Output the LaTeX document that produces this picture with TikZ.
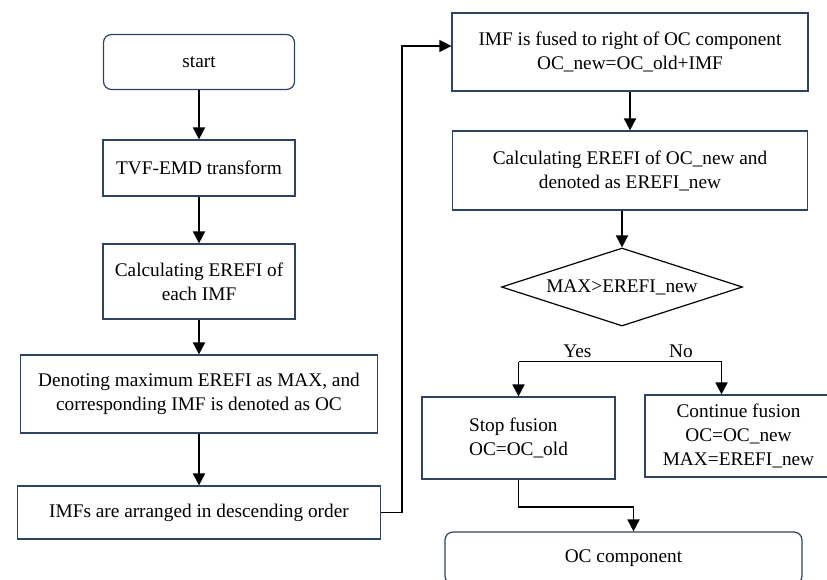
\documentclass[tikz,border=0pt]{standalone}
\usepackage{fontspec}
\setmainfont{Liberation Serif}
\usetikzlibrary{arrows.meta,shapes.geometric,calc}
\definecolor{boxline}{RGB}{47,66,99}
\tikzset{
  box/.style={draw=boxline, line width=1.2pt, inner sep=0pt, align=center,
    font=\fontsize{19.3}{24}\selectfont},
  term/.style={box, rounded corners=8pt},
  decide/.style={diamond, draw=black, line width=1.2pt, inner sep=0pt, aspect=3,
    font=\fontsize{19.3}{24}\selectfont},
  flow/.style={-{Triangle[width=12pt,length=12pt]}, line width=1.8pt},
  link/.style={line width=1.3pt}
}
\begin{document}
\begin{tikzpicture}[x=1pt,y=-1pt]
            \useasboundingbox (0,0) rectangle (827,579);
            \clip (0,0) rectangle (827,579);

            % left column
            \node (start) [term, minimum width=191pt, minimum height=55pt] at (199,62) {start};
            \node (tvf) [box, minimum width=192pt, minimum height=56pt, node distance=106pt, below of=start] {TVF-EMD transform};
            \node (calc) [box, minimum width=192pt, minimum height=75pt, node distance=113.5pt, below of=tvf] {Calculating EREFI of\\each IMF};
            \node (denot) [box, minimum width=357pt, minimum height=78pt, node distance=112.5pt, below of=calc] {Denoting maximum EREFI as MAX, and\\corresponding IMF is denoted as OC};
            \node (imfs) [box, minimum width=363pt, minimum height=53pt, node distance=118.5pt, below of=denot] {IMFs are arranged in descending order};

            % right column
            \node (fuse) [box, minimum width=356pt, minimum height=78pt] at (630,52) {IMF is fused to right of OC component\\OC\_new=OC\_old+IMF};
            \node (calcnew) [box, minimum width=355pt, minimum height=79pt, node distance=118.5pt, below of=fuse] {Calculating EREFI of OC\_new and\\denoted as EREFI\_new};
            \node (dia) [decide, minimum width=241pt, minimum height=78pt, node distance=116.5pt, below of=calcnew, xshift=-8pt] {MAX>EREFI\_new};
            \node (stop) [box, align=left, minimum width=193pt, minimum height=82pt] at (518.5,438) {Stop fusion\\OC=OC\_old};
            \node (cont) [box, minimum width=187pt, minimum height=82pt] at (738.5,436) {Continue fusion\\OC=OC\_new\\MAX=EREFI\_new};
            \node (occ) [term, minimum width=357pt, minimum height=52pt] at (623.5,558) {OC component};

            \coordinate (fork) at ($(dia.south)+(0,35)$);
            \coordinate (yesend) at (stop.north |- fork);
            \coordinate (noend) at ($(cont.north |- fork)+(-17,0)$);

            \path[flow]
            (start) edge (tvf)
            (tvf) edge (calc)
            (calc) edge (denot)
            (denot) edge (imfs)
            (fuse) edge (calcnew);

            \draw[flow] (calcnew.south -| dia.north) -- (dia.north);
            \draw[link, -{Triangle[width=12pt,length=12pt]}] (imfs.east) -- ++(21,0) |- ([yshift=6pt]fuse.west);
            \draw[link] (yesend) -- node[pos=.29, above] {\fontsize{19.3}{24}\selectfont Yes} node[pos=.8, above] {\fontsize{19.3}{24}\selectfont No} (noend);
            \draw[flow] (yesend) -- (stop.north);
            \draw[flow] (noend) -- (noend |- cont.north);
            \draw[flow] (stop.south) -- ++(0,27) -| ([xshift=10pt]occ.north);

        \end{tikzpicture}
\end{document}
